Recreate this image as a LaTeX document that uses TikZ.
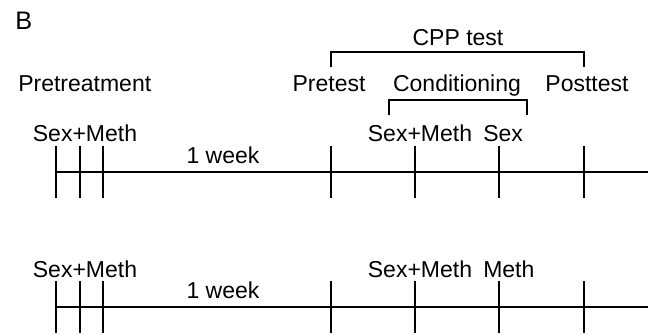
\documentclass[tikz,border=0pt]{standalone}
\usepackage{fontspec}
\setmainfont{Liberation Sans}
\usetikzlibrary{positioning}

\begin{document}
\begin{tikzpicture}[x=0.75pt,y=-0.75pt]
\tikzstyle{every node}+=[inner sep=0pt]
\tikzstyle{tl}=[black, line width=1.6pt]
\tikzstyle{lbl}=[font=\fontsize{17.25}{20}\selectfont, anchor=base]
\useasboundingbox (0,0) rectangle (657,335);
\node [lbl, anchor=base west, font=\fontsize{19}{22}\selectfont] (panel) at (15,30) {B};
% phase labels
\node [lbl, anchor=base west] (pretreat) at (18,92) {Pretreatment};
\node [lbl] (pretest) at (329,92) {Pretest};
\node [lbl] (cond) at (457,92) {Conditioning};
\node [lbl] (posttest) at (587,92) {Posttest};
\node [lbl] (cpp) at (458,46) {CPP test};
% brackets
\coordinate (cppL) at (331,67);
\coordinate (cppR) at (584,67);
\draw [tl] (cppL) -- ++(0,-15) -| (cppR);
\coordinate (condL) at (389,115);
\coordinate (condR) at (527,115);
\draw [tl] (condL) -- ++(0,-15) -| (condR);
% two timelines
\foreach \r/\y/\last in {a/172/Sex, b/307/Meth} {
  \coordinate (\r start) at (56,\y);
  \coordinate (\r end) at (648,\y);
  \draw [tl] (\r start) -- (\r end);
  \foreach \x [count=\i] in {56,80,103,331,415,499,584}
    \draw [tl] (\x,\y-26) -- (\x,\y+26);
  \node [lbl] (\r pre) at (85,\y-30) {Sex+Meth};
  \node [lbl] (\r week) at (223,\y-9) {1 week};
  \node [lbl] (\r day1) at (420,\y-30) {Sex+Meth};
  \node [lbl, anchor=base west] (\r day2) at (483,\y-30) {\last};
}
\end{tikzpicture}
\end{document}
